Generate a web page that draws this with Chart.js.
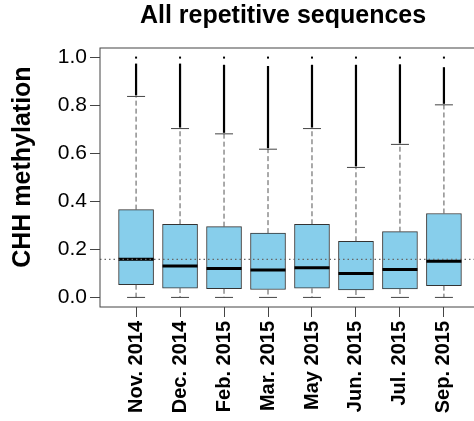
<!DOCTYPE html>
<html>
<head>
<meta charset="utf-8">
<script src="https://cdn.jsdelivr.net/npm/chart.js@4"></script>
<style>
  html, body { margin: 0; padding: 0; background: #fff; overflow: hidden; }
</style>
</head>
<body>
<canvas id="chart" width="566" height="421"></canvas>
<script>
// box plot statistics
const categories = ['Nov. 2014', 'Dec. 2014', 'Feb. 2015', 'Mar. 2015', 'May 2015', 'Jun. 2015', 'Jul. 2015', 'Sep. 2015'];
const whiskerLow = [0, 0, 0, 0, 0, 0, 0, 0];
const q1 = [0.053, 0.039, 0.036, 0.033, 0.038, 0.031, 0.035, 0.049];
const medians = [0.159, 0.131, 0.121, 0.114, 0.124, 0.100, 0.116, 0.151];
const q3 = [0.366, 0.305, 0.295, 0.268, 0.305, 0.234, 0.274, 0.350];
const whiskerHigh = [0.838, 0.704, 0.682, 0.618, 0.704, 0.542, 0.638, 0.803];
const outlierTop = [0.975, 0.975, 0.970, 0.965, 0.970, 0.970, 0.972, 0.960];
const outlierMax = [1.0, 1.0, 1.0, 1.0, 1.0, 1.0, 1.0, 1.0];
const overallMedian = 0.159;
const yTicks = [0.0, 0.2, 0.4, 0.6, 0.8, 1.0];

const boxColor = '#87ceeb';
const edgeColor = '#333';
const fontFamily = 'Liberation Sans, Arial, sans-serif';

const boxPlotParts = {
    id: 'boxPlotParts',
    afterDatasetsDraw(chart) {
        const { ctx, chartArea, scales: { x, y } } = chart;
        const seg = (x1, y1, x2, y2) => {
            ctx.beginPath();
            ctx.moveTo(x1, y1);
            ctx.lineTo(x2, y2);
            ctx.stroke();
        };
        ctx.save();
        categories.forEach((c, i) => {
            const cx = x.getPixelForValue(i + 1);
            const yq1 = y.getPixelForValue(q1[i]);
            const yq3 = y.getPixelForValue(q3[i]);
            const ylo = y.getPixelForValue(whiskerLow[i]);
            const yhi = y.getPixelForValue(whiskerHigh[i]);

            // dashed whiskers
            ctx.strokeStyle = '#555';
            ctx.lineWidth = 1;
            ctx.setLineDash([5, 3]);
            seg(cx, yq3, cx, yhi);
            seg(cx, yq1, cx, ylo);
            ctx.setLineDash([]);

            // staples
            ctx.strokeStyle = '#444';
            seg(cx - 9, yhi, cx + 9, yhi);
            seg(cx - 9, ylo, cx + 9, ylo);

            // outliers, so dense they form a line
            ctx.strokeStyle = '#000';
            ctx.lineWidth = 2.2;
            seg(cx, yhi - 1, cx, y.getPixelForValue(outlierTop[i]));
            ctx.fillStyle = '#000';
            const ym = y.getPixelForValue(outlierMax[i]);
            ctx.fillRect(cx - 1, ym - 1, 2, 2);

            // median
            ctx.lineWidth = 3;
            const half = 17.5;
            const ymed = y.getPixelForValue(medians[i]);
            seg(cx - half, ymed, cx + half, ymed);
        });

        // overall median reference line
        ctx.strokeStyle = '#666';
        ctx.lineWidth = 1.3;
        ctx.setLineDash([1.5, 3]);
        const yr = y.getPixelForValue(overallMedian);
        seg(chartArea.left, yr, chartArea.right, yr);
        ctx.setLineDash([]);

        // frame
        ctx.strokeStyle = '#444';
        ctx.lineWidth = 1;
        ctx.strokeRect(chartArea.left, chartArea.top, chartArea.right - chartArea.left, chartArea.bottom - chartArea.top);
        ctx.restore();
    },
};

const ctx = document.getElementById('chart');
new Chart(ctx, {
    type: 'bar',
    data: {
        datasets: [
            {
                data: categories.map((c, i) => ({ x: i + 1, y: [q1[i], q3[i]] })),
                backgroundColor: boxColor,
                borderColor: edgeColor,
                borderWidth: 1,
                borderSkipped: false,
                barThickness: 35,
            },
        ],
    },
    options: {
        responsive: false,
        animation: false,
        layout: { padding: 0 },
        plugins: {
            legend: { display: false },
            tooltip: { enabled: false },
            title: {
                display: true,
                text: 'All repetitive sequences',
                color: '#000',
                font: { family: fontFamily, size: 25, weight: 'bold' },
                padding: { top: 1, bottom: 17 },
            },
        },
        scales: {
            x: {
                type: 'linear',
                min: 0.18,
                max: 8.82,
                offset: false,
                afterBuildTicks: (scale) => {
                    scale.ticks = categories.map((c, i) => ({ value: i + 1 }));
                },
                afterFit: (scale) => {
                    scale.height = 114;
                    scale.paddingLeft = 0;
                    scale.paddingRight = 0;
                },
                grid: { offset: false, drawOnChartArea: false, drawTicks: true, tickLength: 10, color: '#444' },
                border: { display: false },
                ticks: {
                    autoSkip: false,
                    minRotation: 90,
                    maxRotation: 90,
                    padding: 4,
                    color: '#000',
                    font: { family: fontFamily, size: 20, weight: 'bold' },
                    callback: (v) => categories[v - 1],
                },
            },
            y: {
                min: -0.04,
                max: 1.04,
                afterBuildTicks: (scale) => {
                    scale.ticks = yTicks.map((v) => ({ value: v }));
                },
                afterFit: (scale) => {
                    scale.width = 100;
                },
                grid: { drawOnChartArea: false, drawTicks: true, tickLength: 10, color: '#444' },
                border: { display: false },
                ticks: {
                    padding: 3,
                    color: '#000',
                    font: { family: fontFamily, size: 21 },
                    callback: (v) => v.toFixed(1),
                },
                title: {
                    display: true,
                    text: '   CHH methylation',
                    color: '#000',
                    font: { family: fontFamily, size: 25, weight: 'bold' },
                    padding: { top: 8, bottom: 0 },
                },
            },
            // empty right-hand axis: keeps the plot frame running past the window edge
            yRight: {
                position: 'right',
                min: -0.04,
                max: 1.04,
                afterFit: (scale) => {
                    scale.width = 86;
                },
                grid: { display: false },
                border: { display: false },
                ticks: { display: false },
            },
        },
    },
    plugins: [boxPlotParts],
});
</script>
</body>
</html>
